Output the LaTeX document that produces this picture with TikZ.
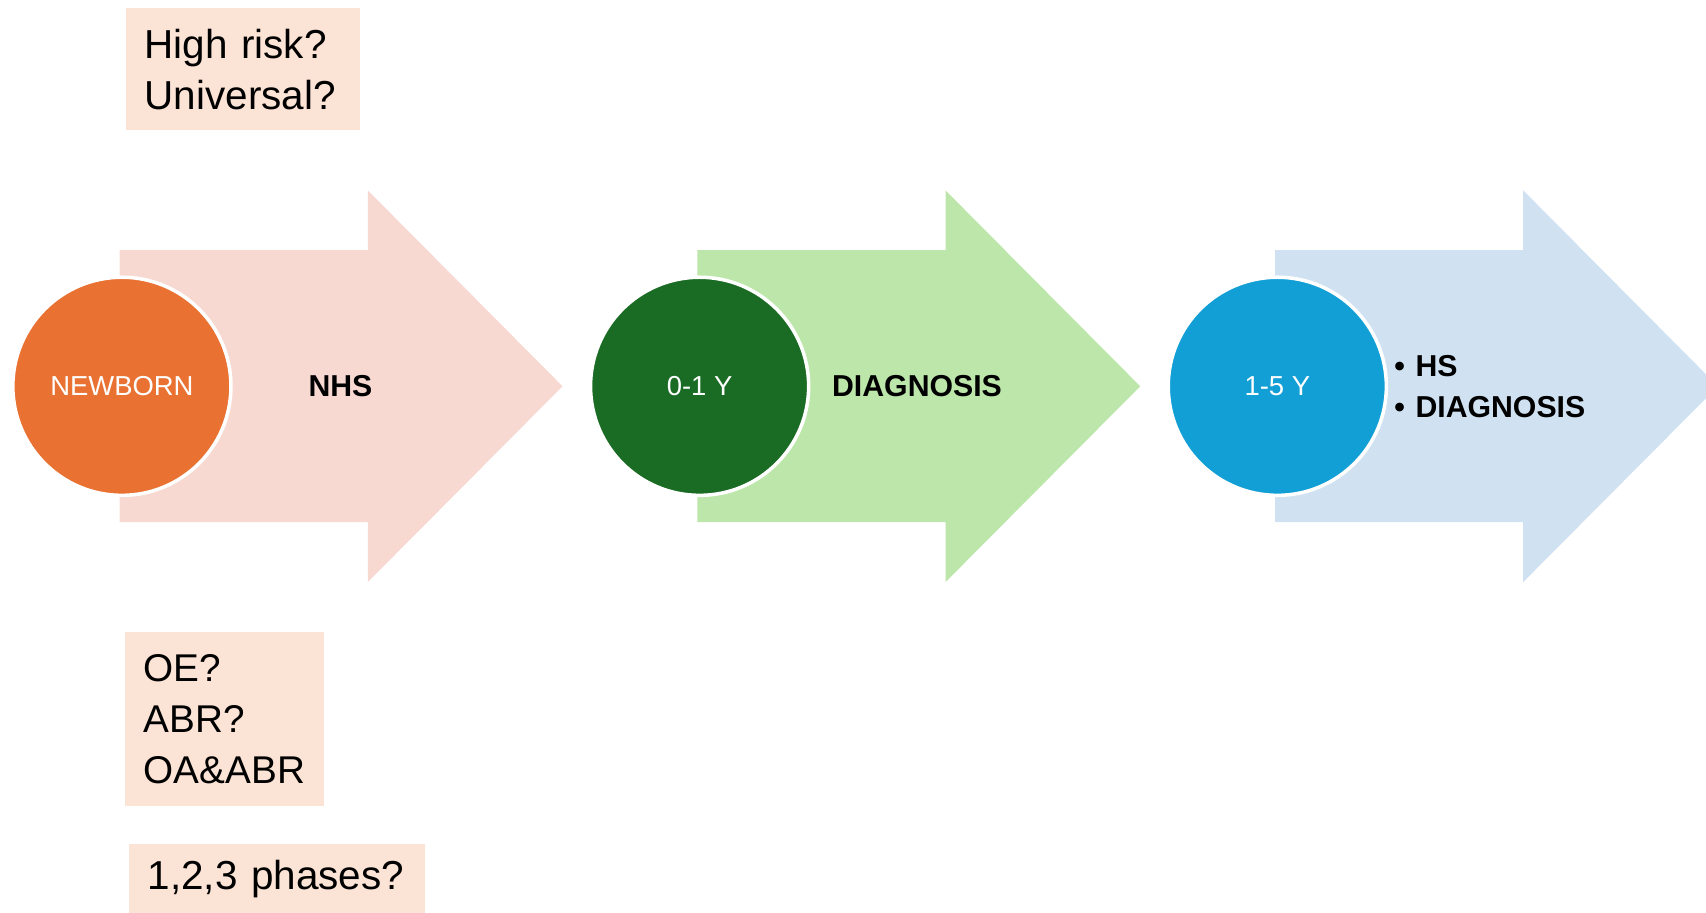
\documentclass[tikz,border=0pt]{standalone}
\usepackage{fontspec}
\setmainfont{Liberation Sans}
\definecolor{myPink}{HTML}{F7D9D2}
\definecolor{myOrange}{HTML}{E97132}
\definecolor{myLightGreen}{HTML}{BDE6AA}
\definecolor{myGreen}{HTML}{1A6B24}
\definecolor{myLightBlue}{HTML}{D0E2F2}
\definecolor{myBlue}{HTML}{119FD6}
\definecolor{myBox}{HTML}{FBE3D6}

\begin{document}
\begin{tikzpicture}[x=0.01cm, y=-0.01cm]

  \tikzstyle{C}=[circle,draw=white,line width=1pt,minimum size=2.18cm,inner sep=0pt,text=white,font=\fontsize{7.8}{9}\selectfont]
  \tikzstyle{B}=[font=\bfseries\fontsize{8.6}{11.7}\selectfont]
  \tikzstyle{Q}=[rectangle,fill=myBox,anchor=north west,align=left,inner xsep=0.19cm,inner ysep=0pt,font=\fontsize{11.5}{14.5}\selectfont]

  \useasboundingbox (0,0) rectangle (1706,913);

  % big arrows
  \fill[myPink] (119.7,250.2) -- (367.8,250.2) -- (367.8,190.4) -- (562.5,386.3)
    -- (367.8,582.1) -- (367.8,522.2) -- (119.7,522.2) -- cycle;
  \fill[myLightGreen] (697.4,250.2) -- (945.5,250.2) -- (945.5,190.4) -- (1140.2,386.3)
    -- (945.5,582.1) -- (945.5,522.2) -- (697.4,522.2) -- cycle;
  \fill[myLightBlue] (1275.1,250.2) -- (1523.2,250.2) -- (1523.2,190.4) -- (1717.9,386.3)
    -- (1523.2,582.1) -- (1523.2,522.2) -- (1275.1,522.2) -- cycle;

  \node[C, fill=myOrange] at (121.9,386.3) (newborn) {NEWBORN};
  \node[C, fill=myGreen] at (699.6,386.3) (year1) {0-1 Y};
  \node[C, fill=myBlue] at (1277.3,386.3) (year5) {1-5 Y};

  \node[B] at (340.5,386.3) (nhs) {NHS};
  \node[B] at (917,386.3) (diagnosis) {DIAGNOSIS};
  \node[B, anchor=west, align=left] at (1382,386.3) (followup)
    {\textbullet\hspace{3pt}HS\\ \textbullet\hspace{3pt}DIAGNOSIS};

  % question boxes
  \node[Q, text width=1.96cm, minimum height=1.22cm] at (125,7.6) (who)
    {High risk?\\ Universal?};
  \node[Q, text width=1.61cm, minimum height=1.74cm, font=\fontsize{11}{14.5}\selectfont] at (124,631) (test)
    {OE?\\ ABR?\\ OA\&ABR};
  \node[Q, text width=2.58cm, minimum height=0.70cm] at (128,843) (phases)
    {1,2,3 phases?};

\end{tikzpicture}
\end{document}
